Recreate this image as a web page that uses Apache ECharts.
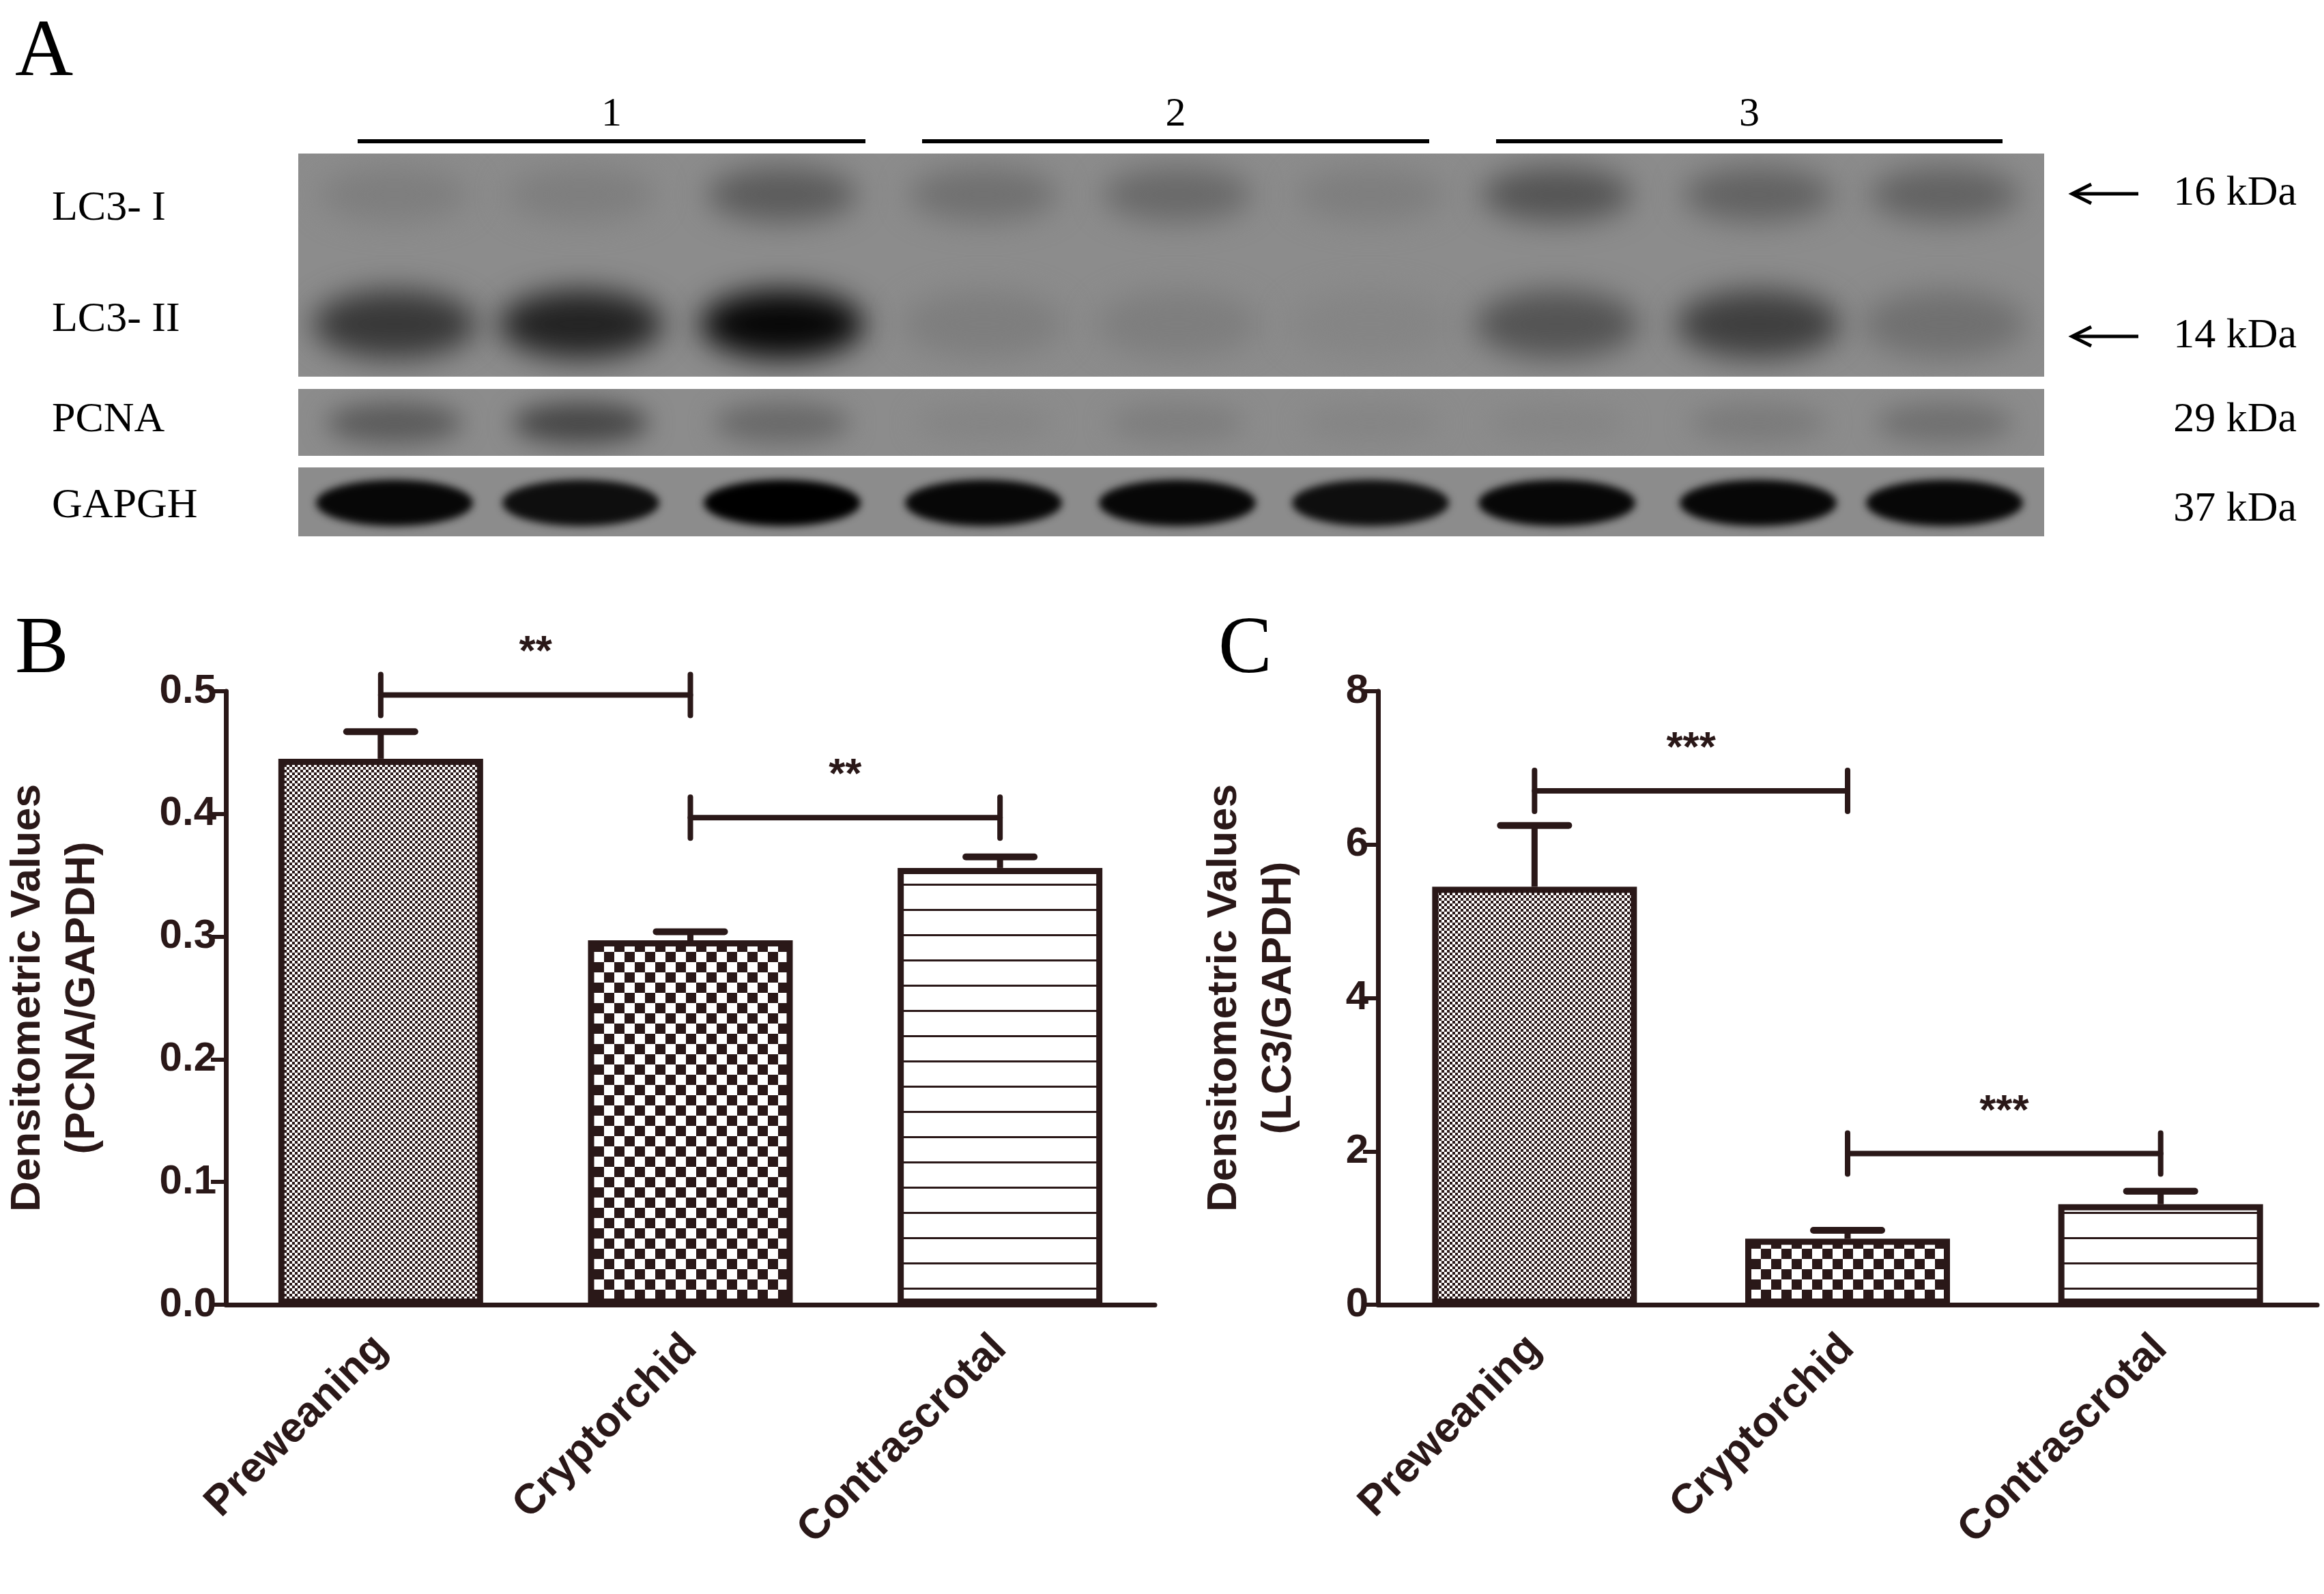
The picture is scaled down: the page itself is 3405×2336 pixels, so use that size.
<!DOCTYPE html>
<html><head><meta charset="utf-8">
<script src="https://cdn.jsdelivr.net/npm/echarts@6/dist/echarts.min.js"></script>
<style>html,body{margin:0;background:#fff}#main{width:3405px;height:2336px}</style>
</head><body><div id="main"></div>
<script>
var categories = ['Preweaning', 'Cryptorchid', 'Contrascrotal'];
var pcnaMean = [0.445, 0.297, 0.356];
var pcnaErr = [0.022, 0.007, 0.009];
var lc3Mean = [5.45, 0.86, 1.31];
var lc3Err = [0.80, 0.11, 0.17];
// [from, to, height, stars]
var pcnaSig = [[0, 1, 0.497, '**'], [1, 2, 0.397, '**']];
var lc3Sig = [[0, 1, 6.7, '***'], [1, 2, 1.97, '***']];
var lanes = ['1', '2', '3'];
var blotRows = ['LC3- I', 'LC3- II', 'PCNA', 'GAPGH'];
var blotSizes = ['16 kDa', '14 kDa', '29 kDa', '37 kDa'];
var blotArrow = [true, true, false, false];
// band darkness per lane (0..1), 9 lanes
var lc3I = [0.1, 0.1, 0.35, 0.2, 0.25, 0.1, 0.4, 0.3, 0.3];
var lc3II = [0.6, 0.75, 0.95, 0.1, 0.1, 0.05, 0.4, 0.55, 0.2];
var pcnaBand = [0.35, 0.5, 0.25, 0.05, 0.1, 0.05, 0.05, 0.12, 0.2];
var gapdhBand = [0.95, 0.9, 1.0, 0.95, 0.95, 0.9, 0.95, 0.95, 0.95];

var ink = '#2a1818';

function pattern(kind) {
  var c = document.createElement('canvas');
  var g = c.getContext('2d');
  if (kind === 'fine') {
    c.width = c.height = 8;
    g.fillStyle = '#fff'; g.fillRect(0, 0, 8, 8);
    g.fillStyle = ink; g.fillRect(0, 0, 4, 4); g.fillRect(4, 4, 4, 4);
  } else if (kind === 'check') {
    c.width = c.height = 30;
    g.fillStyle = '#fff'; g.fillRect(0, 0, 30, 30);
    g.fillStyle = ink; g.fillRect(0, 0, 15, 15); g.fillRect(15, 15, 15, 15);
  } else {
    c.width = 10; c.height = 37;
    g.fillStyle = '#fff'; g.fillRect(0, 0, 10, 37);
    g.fillStyle = ink; g.fillRect(0, 0, 10, 3);
  }
  return {image: c, repeat: 'repeat'};
}
var fills = [pattern('fine'), pattern('check'), pattern('lines')];

function blot(w, h, rows) {
  var c = document.createElement('canvas');
  c.width = w; c.height = h;
  var g = c.getContext('2d');
  g.fillStyle = '#8c8c8c'; g.fillRect(0, 0, w, h);
  var lx = [578, 851, 1146, 1441, 1725, 2008, 2281, 2576, 2849].map(function (v) { return v - 437; });
  rows.forEach(function (r) {
    g.filter = 'blur(' + r.blur + 'px)';
    r.vals.forEach(function (v, i) {
      var s = Math.round(140 - 140 * v);
      g.fillStyle = 'rgb(' + s + ',' + s + ',' + s + ')';
      g.beginPath();
      g.ellipse(lx[i], r.y, r.rx, r.ry, 0, 0, Math.PI * 2);
      g.fill();
    });
  });
  g.filter = 'none';
  return c;
}
var blotLC3 = blot(2558, 327, [{y: 60, rx: 110, ry: 40, blur: 22, vals: lc3I}, {y: 250, rx: 120, ry: 50, blur: 22, vals: lc3II}]);
var blotPCNA = blot(2558, 98, [{y: 50, rx: 100, ry: 30, blur: 18, vals: pcnaBand}]);
var blotGAPDH = blot(2558, 101, [{y: 52, rx: 115, ry: 34, blur: 6, vals: gapdhBand}]);

function errSeries(mean, err, idx) {
  return {
    type: 'custom', xAxisIndex: idx, yAxisIndex: idx, z: 5,
    data: mean.map(function (m, i) { return [i, m, m + err[i]]; }),
    renderItem: function (p, api) {
      var a = api.coord([api.value(0), api.value(1)]);
      var b = api.coord([api.value(0), api.value(2)]);
      return {type: 'group', children: [
        {type: 'line', shape: {x1: a[0], y1: a[1], x2: b[0], y2: b[1]}, style: {stroke: ink, lineWidth: 9}},
        {type: 'line', shape: {x1: b[0] - 50, y1: b[1], x2: b[0] + 50, y2: b[1]}, style: {stroke: ink, lineWidth: 10, lineCap: 'round'}}
      ]};
    }
  };
}
function sigSeries(sig, idx) {
  return {
    type: 'custom', xAxisIndex: idx, yAxisIndex: idx, z: 5,
    data: sig,
    renderItem: function (p, api) {
      var a = api.coord([api.value(0), api.value(2)]);
      var b = api.coord([api.value(1), api.value(2)]);
      var st = {stroke: ink, lineWidth: 8, lineCap: 'round'};
      return {type: 'group', children: [
        {type: 'line', shape: {x1: a[0], y1: a[1], x2: b[0], y2: b[1]}, style: st},
        {type: 'line', shape: {x1: a[0], y1: a[1] - 30, x2: a[0], y2: a[1] + 30}, style: st},
        {type: 'line', shape: {x1: b[0], y1: b[1] - 30, x2: b[0], y2: b[1] + 30}, style: st},
        {type: 'text', style: {text: sig[p.dataIndex][3], x: (a[0] + b[0]) / 2, y: a[1] - 30,
          align: 'center', verticalAlign: 'bottom', fill: ink, font: 'bold 62px "Liberation Sans"'}}
      ]};
    }
  };
}
function barSeries(mean, idx) {
  return {
    type: 'bar', xAxisIndex: idx, yAxisIndex: idx, barWidth: 300,
    data: mean.map(function (m, i) {
      return {value: m, itemStyle: {color: fills[i], borderColor: ink, borderWidth: 9}};
    })
  };
}
function xAxis(idx) {
  return {
    type: 'category', gridIndex: idx, data: categories,
    axisLine: {lineStyle: {color: ink, width: 7}},
    axisTick: {alignWithLabel: true, length: 40, lineStyle: {color: ink, width: 6}},
    axisLabel: {rotate: 45, margin: 55, color: ink, fontSize: 62, fontWeight: 'bold', fontFamily: 'Liberation Sans'}
  };
}
function yAxis(idx, max, interval, fmt, name, gap) {
  return {
    type: 'value', gridIndex: idx, min: 0, max: max, interval: interval,
    name: name, nameLocation: 'middle', nameGap: gap, nameRotate: 90,
    nameTextStyle: {color: ink, fontSize: 62, fontWeight: 'bold', fontFamily: 'Liberation Sans', lineHeight: 80},
    splitLine: {show: false},
    axisLine: {show: true, lineStyle: {color: ink, width: 7}},
    axisTick: {show: true, length: 22, lineStyle: {color: ink, width: 6}},
    axisLabel: {color: ink, fontSize: 60, fontWeight: 'bold', fontFamily: 'Liberation Sans', margin: 14,
      formatter: function (v) { return fmt ? v.toFixed(1) : String(v); }}
  };
}

var serif = '"Liberation Serif", serif';
var graphics = [
  {type: 'text', left: 22, top: 20, style: {text: 'A', font: '118px ' + serif, fill: '#000'}},
  {type: 'text', left: 22, top: 895, style: {text: 'B', font: '118px ' + serif, fill: '#000'}},
  {type: 'text', left: 1785, top: 895, style: {text: 'C', font: '118px ' + serif, fill: '#000'}},
  {type: 'image', left: 437, top: 225, style: {image: blotLC3, width: 2558, height: 327}},
  {type: 'image', left: 437, top: 570, style: {image: blotPCNA, width: 2558, height: 98}},
  {type: 'image', left: 437, top: 685, style: {image: blotGAPDH, width: 2558, height: 101}}
];
var laneX = [[524, 1268], [1351, 2094], [2192, 2934]];
lanes.forEach(function (t, i) {
  graphics.push({type: 'line', shape: {x1: laneX[i][0], y1: 207, x2: laneX[i][1], y2: 207}, style: {stroke: '#000', lineWidth: 6}});
  graphics.push({type: 'text', x: (laneX[i][0] + laneX[i][1]) / 2, y: 168, style: {text: t, font: '60px ' + serif, fill: '#000', align: 'center', verticalAlign: 'middle'}});
});
var rowY = [306, 469, 616, 742];
var sizeY = [284, 493, 616, 747];
blotRows.forEach(function (t, i) {
  graphics.push({type: 'text', x: 76, y: rowY[i], style: {text: t, font: '62px ' + serif, fill: '#000', verticalAlign: 'middle'}});
  graphics.push({type: 'text', x: 3365, y: sizeY[i], style: {text: blotSizes[i], font: '62px ' + serif, fill: '#000', align: 'right', verticalAlign: 'middle'}});
  if (blotArrow[i]) {
    var y = sizeY[i];
    graphics.push({type: 'line', shape: {x1: 3040, y1: y, x2: 3133, y2: y}, style: {stroke: '#000', lineWidth: 5}});
    graphics.push({type: 'polyline', shape: {points: [[3064, y - 14], [3036, y], [3064, y + 14]]}, style: {stroke: '#000', lineWidth: 5, fill: null}});
  }
});

var chart = echarts.init(document.getElementById('main'));
chart.setOption({
  animation: false,
  backgroundColor: '#fff',
  grid: [
    {left: 323, top: 1013, width: 1369, height: 899},
    {left: 2019, top: 1013, width: 1376, height: 899}
  ],
  xAxis: [xAxis(0), xAxis(1)],
  yAxis: [
    yAxis(0, 0.5, 0.1, true, 'Densitometric Values\n(PCNA/GAPDH)', 170),
    yAxis(1, 8, 2, false, 'Densitometric Values\n(LC3/GAPDH)', 105)
  ],
  graphic: graphics,
  series: [
    barSeries(pcnaMean, 0), errSeries(pcnaMean, pcnaErr, 0), sigSeries(pcnaSig, 0),
    barSeries(lc3Mean, 1), errSeries(lc3Mean, lc3Err, 1), sigSeries(lc3Sig, 1)
  ]
});
</script>
</body></html>
